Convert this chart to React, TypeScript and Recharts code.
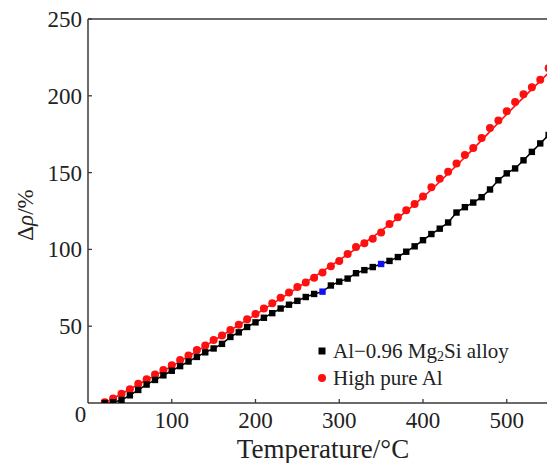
import { ComposedChart, Line, XAxis, YAxis, Legend, ReferenceLine, Label } from "recharts";

const FONT = "'Liberation Serif', 'DejaVu Serif', 'Times New Roman', serif";
const AXIS = "#3a3a3a";
const textStyle = { fontFamily: FONT };

// temperature steps of the measurements (°C)
const temps = [
  20, 30, 40, 50, 60, 70, 80, 90, 100, 110, 120, 130, 140, 150, 160, 170, 180, 190,
  200, 210, 220, 230, 240, 250, 260, 270, 280, 290, 300, 310, 320, 330, 340, 350, 360,
  370, 380, 390, 400, 410, 420, 430, 440, 450, 460, 470, 480, 490, 500, 510, 520, 530,
  540, 550,
];

// High pure Al, measured Δρ (%)
const pureAl = [
  0.5, 3, 6, 9, 12.5, 15.5, 18.5, 21.5, 24.5, 28, 31, 34.5, 37.5, 41, 44, 47.5, 51, 54.5,
  58, 61.5, 65, 68.5, 72, 75.5, 78.5, 81.5, 85, 89, 92.5, 97, 101.5, 104, 107, 111, 116.5,
  121, 125.5, 129.5, 134.5, 140.5, 146, 150.5, 156, 161.5, 166, 172.5, 179, 184, 190, 196,
  201, 205.5, 210.5, 218,
];

// Al-0.96Mg2Si alloy, measured Δρ (%)
const alloy = [
  0, 0.5, 2, 5, 8.5, 12, 15, 18, 21, 24, 27, 30, 33, 35.5, 38.5, 43, 46, 49.5,
  52.5, 55.5, 58.5, 61.5, 64, 66.5, 69, 71, 72.5, 76.5, 79, 81, 84.5, 86.5, 88.5, 90.5, 92.5,
  95, 98.5, 102, 106, 110, 113.5, 117.5, 124, 127.5, 130.5, 134, 139, 145, 149.5, 152.7,
  158, 163.5, 169, 174.5,
];

// points marked in blue on the alloy curve
const bluePoints = [280, 350];

// fitted curve of high pure Al
const fitTemps = [20, 50, 100, 150, 200, 250, 300, 350, 400, 450, 500, 552];
const fitValues = [0, 9, 24, 40.5, 57.5, 75, 93, 112, 134, 160, 188, 216];

const xTicks = [0, 100, 200, 300, 400, 500];
const yTicks = [0, 50, 100, 150, 200, 250];

const pureData = temps.map((t, i) => ({ t, v: pureAl[i] }));
const alloyData = temps.map((t, i) => ({ t, v: alloy[i] }));
const fitData = fitTemps.map((t, i) => ({ t, v: fitValues[i] }));

const XTick = (props: any) => {
  const { x, y, payload } = props;
  if (payload.value === 0) {
    return (
      <text x={x - 7.5} y={y + 19} textAnchor="middle" fontSize={23} style={textStyle} fill="#222">
        0
      </text>
    );
  }
  return (
    <g>
      <line x1={x} x2={x} y1={y} y2={y - 4} stroke={AXIS} strokeWidth={1.3} />
      <text x={x} y={y + 25} textAnchor="middle" fontSize={23} style={textStyle} fill="#222">
        {payload.value}
      </text>
    </g>
  );
};

const YTick = (props: any) => {
  const { x, y, payload } = props;
  if (payload.value === 0) return <g />;
  return (
    <g>
      <line x1={x} x2={x + 4} y1={y} y2={y} stroke={AXIS} strokeWidth={1.3} />
      <text x={x - 6} y={y} dy="0.35em" textAnchor="end" fontSize={23} style={textStyle} fill="#222">
        {payload.value}
      </text>
    </g>
  );
};

const RedDot = (props: any) => {
  const { cx, cy, index } = props;
  if (cx == null || cy == null) return <g key={index} />;
  return <circle key={index} cx={cx} cy={cy} r={4} fill="#ff1010" />;
};

const SquareDot = (props: any) => {
  const { cx, cy, index, payload } = props;
  if (cx == null || cy == null) return <g key={index} />;
  const blue = bluePoints.includes(payload.t);
  return (
    <rect key={index} x={cx - 3.2} y={cy - 3.2} width={6.4} height={6.4} fill={blue ? "#1010f0" : "#000"} />
  );
};

const LegendBox = () => (
  <svg width={245} height={56} style={{ overflow: "visible" }}>
    <rect x={10.5} y={9.5} width={7} height={7} fill="#000" />
    <text x={25} y={20} fontSize={21} style={textStyle} fill="#222">
      Al−0.96 Mg<tspan fontSize={14} dy={3}>2</tspan>
      <tspan dy={-3}>Si alloy</tspan>
    </text>
    <circle cx={14} cy={40} r={4} fill="#ff1010" />
    <text x={25} y={47} fontSize={21} style={textStyle} fill="#222">
      High pure Al
    </text>
  </svg>
);

export default function App() {
  return (
    <div style={{ width: 547, height: 455, overflow: "hidden", position: "relative", fontFamily: FONT }}>
      <ComposedChart width={549} height={455} margin={{ top: 11, right: 0, bottom: 0, left: 0 }}>
        <XAxis
          dataKey="t"
          type="number"
          domain={[0, 560]}
          ticks={xTicks}
          height={60}
          tickSize={0}
          tickMargin={0}
          tick={<XTick />}
          axisLine={{ stroke: AXIS, strokeWidth: 1.5 }}
          tickLine={false}
          allowDataOverflow
        >
          <Label
            content={() => (
              <text x={315} y={450} textAnchor="middle" fontSize={27} style={textStyle} fill="#222">
                Temperature/°C
              </text>
            )}
          />
        </XAxis>
        <YAxis
          type="number"
          domain={[0, 250]}
          ticks={yTicks}
          width={80}
          tickSize={0}
          tickMargin={0}
          tick={<YTick />}
          axisLine={{ stroke: AXIS, strokeWidth: 1.5 }}
          tickLine={false}
          allowDataOverflow
        >
          <Label
            content={() => (
              <text
                x={17}
                y={207}
                transform="rotate(-90, 17, 207)"
                textAnchor="middle"
                dominantBaseline="central"
                fontSize={23}
                style={textStyle}
                fill="#222"
              >
                Δ<tspan fontStyle="italic">ρ</tspan>/%
              </text>
            )}
          />
        </YAxis>
        <ReferenceLine y={250} stroke={AXIS} strokeWidth={1.5} />
        <Line
          data={fitData}
          dataKey="v"
          type="monotone"
          stroke="#ff1010"
          strokeWidth={1.6}
          dot={false}
          activeDot={false}
          legendType="none"
          isAnimationActive={false}
        />
        <Line
          data={pureData}
          dataKey="v"
          stroke="none"
          dot={<RedDot />}
          activeDot={false}
          isAnimationActive={false}
        />
        <Line
          data={alloyData}
          dataKey="v"
          type="linear"
          stroke="#000"
          strokeWidth={1.5}
          dot={<SquareDot />}
          activeDot={false}
          isAnimationActive={false}
        />
        <Legend
          layout="vertical"
          align="center"
          verticalAlign="middle"
          content={() => <LegendBox />}
          wrapperStyle={{ position: "absolute", left: 300, top: 330, width: 245, height: 56 }}
        />
      </ComposedChart>
    </div>
  );
}
